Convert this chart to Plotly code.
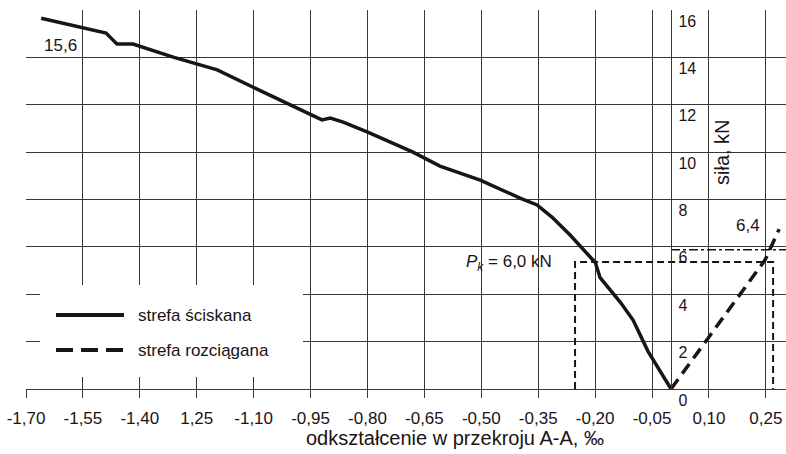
import plotly.graph_objects as go

# --- data -------------------------------------------------------------
# compression zone (strefa ściskana): strain [‰] vs force [kN]
comp_strain = [-1.660, -1.499, -1.489, -1.460, -1.418, -1.312, -1.196, -1.091,
               -0.949, -0.920, -0.898, -0.864, -0.801, -0.680, -0.609, -0.503,
               -0.398, -0.353, -0.314, -0.266, -0.206, -0.200, -0.187, -0.134,
               -0.100, -0.061, 0.0]
comp_force = [15.65, 15.07, 15.03, 14.56, 14.56, 14.01, 13.47, 12.66,
              11.57, 11.36, 11.44, 11.27, 10.85, 10.00, 9.41, 8.82,
              8.06, 7.77, 7.26, 6.50, 5.45, 5.36, 4.70, 3.67,
              2.91, 1.60, 0.0]

# tension zone (strefa rozciągana)
tens_strain = [0.0, 0.248, 0.285]
tens_force = [0.0, 5.45, 6.75]

# auxiliary lines
pk_box_x = [-0.253, -0.253, 0.269, 0.269]
pk_box_y = [0.0, 5.36, 5.36, 0.0]
f64_x = [0.0, 0.31]
f64_y = [5.88, 5.88]

x_tickvals = [-1.70, -1.55, -1.40, -1.25, -1.10, -0.95, -0.80, -0.65,
              -0.50, -0.35, -0.20, -0.05, 0.10, 0.25]
x_ticktext = ["-1,70", "-1,55", "-1,40", "1,25", "-1,10", "-0,95", "-0,80",
              "-0,65", "-0,50", "-0,35", "-0,20", "-0,05", "0,10", "0,25"]
y_tickvals = [0, 2, 4, 6, 8, 10, 12, 14, 16]
y_ticktext = ["0", "2", "4", "6", "8", "10", "12", "14", "16"]

legend_names = ["strefa ściskana", "strefa rozciągana"]

# --- figure -----------------------------------------------------------
FONT = "Liberation Sans, Arial, sans-serif"
INK = "#1a1414"
GRID = "#363636"
X_MIN, X_MAX = -1.70, 0.303

fig = go.Figure()

fig.add_trace(go.Scatter(x=pk_box_x, y=pk_box_y, mode="lines",
                         line=dict(color=INK, width=2, dash="7px,4px"),
                         showlegend=False, hoverinfo="skip"))
fig.add_trace(go.Scatter(x=f64_x, y=f64_y, mode="lines",
                         line=dict(color=INK, width=1.6, dash="9px,3px,3px,3px"),
                         showlegend=False, hoverinfo="skip"))
fig.add_trace(go.Scatter(x=comp_strain, y=comp_force, mode="lines",
                         name=legend_names[0],
                         line=dict(color=INK, width=3.5),
                         showlegend=False))
fig.add_trace(go.Scatter(x=tens_strain, y=tens_force, mode="lines",
                         name=legend_names[1],
                         line=dict(color=INK, width=3.5, dash="12px,7px"),
                         showlegend=False))

L, T, B, R = 26, 10, 65, 0
W, H = 786, 454
PW, PH = W - L - R, H - T - B


def px(xpix):
    return (xpix - L) / PW


def py(ypix):
    return (H - B - ypix) / PH


# manual legend (white box + sample lines + labels)
shapes = [
    dict(type="rect", xref="paper", yref="paper", x0=px(40), x1=px(303),
         y0=py(377), y1=py(285), fillcolor="white", line=dict(width=0),
         layer="above"),
    dict(type="line", xref="paper", yref="paper", x0=px(56), x1=px(124),
         y0=py(315), y1=py(315), line=dict(color=INK, width=4),
         layer="above"),
    dict(type="line", xref="paper", yref="paper", x0=px(56), x1=px(124),
         y0=py(350), y1=py(350), line=dict(color=INK, width=4,
                                          dash="17px,8px"),
         layer="above"),
]


def note(text, x, y, size=17, ref="data", **kw):
    d = dict(x=x, y=y, text=text, showarrow=False,
             xanchor=kw.pop("xanchor", "center"),
             yanchor=kw.pop("yanchor", "middle"),
             font=dict(size=size, color=INK, family=FONT))
    if ref == "paper":
        d.update(xref="paper", yref="paper")
    d.update(kw)
    return d


annotations = [
    note(legend_names[0], px(136), py(315), ref="paper", xanchor="left"),
    note(legend_names[1], px(136), py(350), ref="paper", xanchor="left"),
    note("15,6", -1.610, 14.52),
    note("<i>P</i><sub><i>k</i></sub> = 6,0 kN", -0.427, 5.32),
    note("6,4", 0.203, 6.92),
    note("siła, kN", px(722), py(152), size=20, ref="paper", textangle=-90),
    note("odkształcenie w przekroju A-A, ‰", px(455), py(438), size=20,
         ref="paper"),
]

fig.update_layout(
    template="none",
    width=W, height=H,
    margin=dict(l=L, r=R, t=T, b=B, pad=0, autoexpand=False),
    paper_bgcolor="white", plot_bgcolor="white",
    font=dict(family=FONT, color=INK),
    showlegend=False,
    shapes=shapes, annotations=annotations,
    xaxis=dict(range=[X_MIN, X_MAX], tickmode="array",
               tickvals=x_tickvals, ticktext=x_ticktext,
               automargin=False,
               showgrid=True, gridcolor=GRID, gridwidth=1.3,
               zeroline=False, showline=True, linecolor=GRID, linewidth=1.3,
               ticks="outside", ticklen=8, tickcolor=GRID, tickwidth=1.3,
               ticklabelstandoff=5,
               tickfont=dict(size=17, color=INK, family=FONT)),
    yaxis=dict(range=[0, 16], tickmode="array",
               tickvals=y_tickvals, ticktext=y_ticktext,
               automargin=False,
               side="right", anchor="free",
               position=(0 - X_MIN) / (X_MAX - X_MIN),
               showgrid=True, gridcolor=GRID, gridwidth=1.3,
               zeroline=False, showline=True, linecolor=GRID, linewidth=1.3,
               ticks="", ticklabelposition="outside",
               ticklabeloverflow="allow",
               ticklabelshift=11, ticklabelstandoff=3,
               tickfont=dict(size=16, color=INK, family=FONT)),
)

fig.write_html(
    "out.html",
    config={"displayModeBar": False},
    post_script="document.body.style.margin='0';"
                "document.body.style.overflow='hidden';",
)
